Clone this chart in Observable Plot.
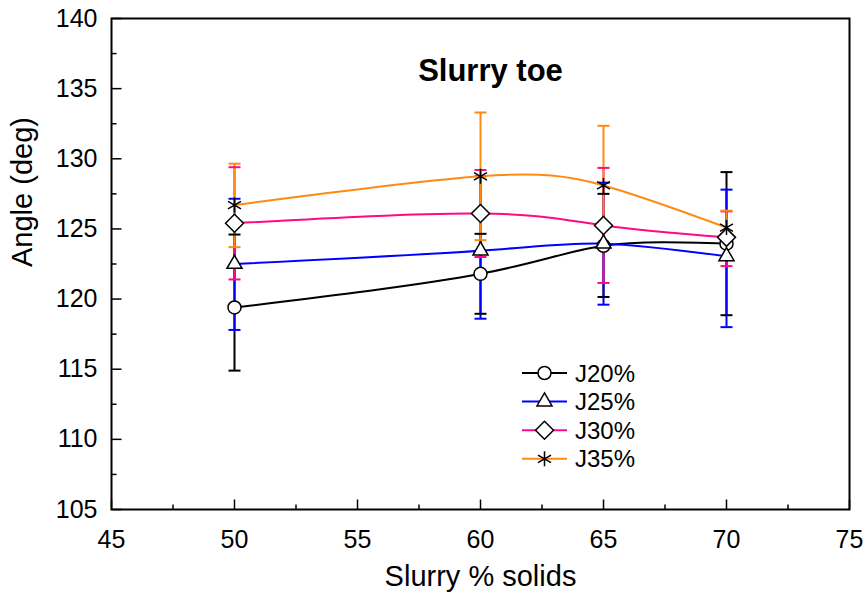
<!DOCTYPE html>
<html><head><meta charset="utf-8">
<script src="https://cdn.jsdelivr.net/npm/d3@7"></script>
<script src="https://cdn.jsdelivr.net/npm/@observablehq/plot@0.6"></script>
<style>
body{margin:0;background:#fff}
#chart{position:relative;width:866px;height:606px}
</style>
</head><body><div id="chart"></div>
<script>
// ---- data ----
const solids = [50, 60, 65, 70];
const seriesNames = ["J20%", "J25%", "J30%", "J35%"];
const j20Mean = [119.4, 121.8, 123.8, 123.95];
const j20Lo   = [114.9, 118.95, 120.15, 118.85];
const j20Hi   = [124.6, 124.65, 127.5, 129.05];
const j25Mean = [122.5, 123.45, 123.95, 123.05];
const j25Lo   = [117.8, 118.6, 119.6, 118.0];
const j25Hi   = [127.15, 128.75, 128.3, 127.8];
const j30Mean = [125.4, 126.1, 125.25, 124.4];
const j30Lo   = [121.4, 123.0, 121.15, 122.35];
const j30Hi   = [129.4, 129.2, 129.35, 126.25];
const j35Mean = [126.7, 128.75, 128.1, 125.1];
const j35Lo   = [123.7, 124.2, 123.85, 123.95];
const j35Hi   = [129.65, 133.3, 132.35, 126.3];
const xTicks = [45, 50, 55, 60, 65, 70, 75];
const xMinor = [47.5, 52.5, 57.5, 62.5, 67.5, 72.5];
const yTicks = [105, 110, 115, 120, 125, 130, 135, 140];
const yMinor = [107.5, 112.5, 117.5, 122.5, 127.5, 132.5, 137.5];

// ---- styles ----
const colors = ["#000000", "#0000ff", "#ff0a84", "#ff8a12"];
const symbols = ["circle", "triangle", "diamond2", "asterisk"];
const symR = [6.5, 5.6, 8.1, 7.1];
const font = "'Liberation Sans', Arial, Helvetica, sans-serif";

const series = [
  [j20Mean, j20Lo, j20Hi],
  [j25Mean, j25Lo, j25Hi],
  [j30Mean, j30Lo, j30Hi],
  [j35Mean, j35Lo, j35Hi]
];
const rows = series.map(([m, lo, hi], i) =>
  solids.map((x, j) => ({series: seriesNames[i], x, y: m[j], lo: lo[j], hi: hi[j]})));

const capSym = {draw(ctx){ ctx.moveTo(-6, 0); ctx.lineTo(6, 0); }};
const tickRight = L => ({draw(ctx){ ctx.moveTo(0, 0); ctx.lineTo(L, 0); }});
const tickUp = L => ({draw(ctx){ ctx.moveTo(0, 0); ctx.lineTo(0, -L); }});

const marks = [];
// error bars
rows.forEach((d, i) => {
  marks.push(Plot.ruleX(d, {x: "x", y1: "lo", y2: "hi", stroke: colors[i], strokeWidth: 2}));
});
rows.forEach((d, i) => {
  marks.push(Plot.dot(d, {x: "x", y: "lo", symbol: capSym, fill: "none", stroke: colors[i], strokeWidth: 2}));
  marks.push(Plot.dot(d, {x: "x", y: "hi", symbol: capSym, fill: "none", stroke: colors[i], strokeWidth: 2}));
});
// lines
rows.forEach((d, i) => {
  marks.push(Plot.line(d, {x: "x", y: "y", stroke: colors[i], strokeWidth: 2, curve: "natural"}));
});
// markers
rows.forEach((d, i) => {
  marks.push(Plot.dot(d, {x: "x", y: "y", symbol: symbols[i], r: symR[i], fill: i === 3 ? "none" : "white", stroke: "black", strokeWidth: 1.5}));
});
// frame and ticks
marks.push(Plot.frame({stroke: "black", strokeWidth: 2}));
marks.push(Plot.dot(yTicks, {y: d => d, frameAnchor: "left", symbol: tickRight(10), fill: "none", stroke: "black", strokeWidth: 1.5}));
marks.push(Plot.dot(yMinor, {y: d => d, frameAnchor: "left", symbol: tickRight(5), fill: "none", stroke: "black", strokeWidth: 1.5}));
marks.push(Plot.dot(xTicks, {x: d => d, frameAnchor: "bottom", symbol: tickUp(10), fill: "none", stroke: "black", strokeWidth: 1.5}));
marks.push(Plot.dot(xMinor, {x: d => d, frameAnchor: "bottom", symbol: tickUp(5), fill: "none", stroke: "black", strokeWidth: 1.5}));
marks.push(Plot.axisY(yTicks, {tickSize: 0, tickPadding: 14, fontSize: 25, label: null}));
marks.push(Plot.axisX(xTicks, {tickSize: 0, tickPadding: 21, fontSize: 25, label: null}));
// titles
marks.push(Plot.text(["Slurry toe"], {frameAnchor: "top", dx: 10, dy: 40, fontSize: 31, fontWeight: "bold"}));
marks.push(Plot.text(["Slurry % solids"], {frameAnchor: "bottom", dy: 76, fontSize: 29}));
marks.push(Plot.text(["Angle (deg)"], {frameAnchor: "left", dx: -89, dy: 3, rotate: -90, fontSize: 29}));

const plot = Plot.plot({
  width: 866,
  height: 606,
  marginLeft: 111,
  marginRight: 17,
  marginTop: 18,
  marginBottom: 97,
  style: {fontFamily: font, color: "black", background: "white", overflow: "visible"},
  x: {domain: [45, 75]},
  y: {domain: [105, 140]},
  marks
});

// legend (inside plot area)
const svg = d3.select(plot);
const lg = svg.append("g").attr("font-family", font).attr("font-size", 24).attr("text-anchor", "start");
seriesNames.forEach((name, i) => {
  const gy = 373 + i * 28.6;
  const g = lg.append("g").attr("transform", `translate(0,${gy})`);
  g.append("line").attr("x1", 522).attr("x2", 567).attr("y1", 0).attr("y2", 0)
    .attr("stroke", colors[i]).attr("stroke-width", 2);
  const symType = [d3.symbolCircle, d3.symbolTriangle, d3.symbolDiamond2, d3.symbolAsterisk][i];
  g.append("path").attr("transform", "translate(544.5,0)")
    .attr("d", d3.symbol(symType, Math.PI * symR[i] * symR[i])())
    .attr("fill", i === 3 ? "none" : "white").attr("stroke", "black").attr("stroke-width", 1.5);
  g.append("text").attr("x", 575).attr("y", 0).attr("dy", "0.36em").attr("text-anchor", "start").text(name);
});

document.getElementById("chart").appendChild(plot);
</script>
</body></html>
